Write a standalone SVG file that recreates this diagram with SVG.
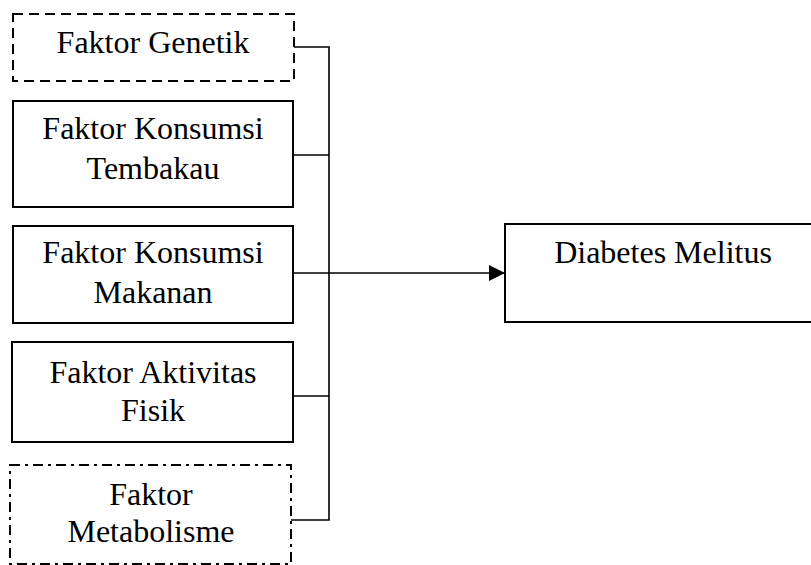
<svg xmlns="http://www.w3.org/2000/svg" width="811" height="565" viewBox="0 0 811 565">
<style>
.box{fill:#fff;stroke:#000;stroke-width:2}
.dash{stroke-dasharray:10 6}
.dashdot{stroke-dasharray:10 5 3 5}
.t{font-family:"Liberation Serif","Times New Roman",serif;font-size:32px;fill:#000;text-anchor:middle}
.c{fill:none;stroke:#000;stroke-width:1.6}
</style>
<defs>
<marker id="ah" markerWidth="16" markerHeight="16" refX="16" refY="8" orient="auto" markerUnits="userSpaceOnUse">
<path d="M0,0 L16,8 L0,16 Z" fill="#000"/>
</marker>
</defs>
<g id="connectors">
<path class="c" d="M294,47 H329 V520 H291"/>
<path class="c" d="M293,155 H329"/>
<path class="c" d="M293,396 H329"/>
<path class="c" d="M293,273 H505" stroke-width="2" marker-end="url(#ah)"/>
</g>
<g id="genetik">
<rect class="box dash" x="13" y="14" width="281" height="67"/>
<text class="t" x="153" y="53">Faktor Genetik</text>
</g>
<g id="tembakau">
<rect class="box" x="13" y="101" width="280" height="106"/>
<text class="t" x="153" y="139">Faktor Konsumsi</text>
<text class="t" x="153" y="179">Tembakau</text>
</g>
<g id="makanan">
<rect class="box" x="13" y="226" width="280" height="97"/>
<text class="t" x="153" y="263">Faktor Konsumsi</text>
<text class="t" x="153" y="303">Makanan</text>
</g>
<g id="aktivitas">
<rect class="box" x="12" y="342" width="281" height="100"/>
<text class="t" x="153" y="383">Faktor Aktivitas</text>
<text class="t" x="153" y="421">Fisik</text>
</g>
<g id="metabolisme">
<rect class="box dashdot" x="10" y="465" width="281" height="99"/>
<text class="t" x="151" y="505">Faktor</text>
<text class="t" x="151" y="542">Metabolisme</text>
</g>
<g id="diabetes">
<rect class="box" x="505" y="224" width="310" height="98"/>
<text class="t" x="663" y="263">Diabetes Melitus</text>
</g>
</svg>
